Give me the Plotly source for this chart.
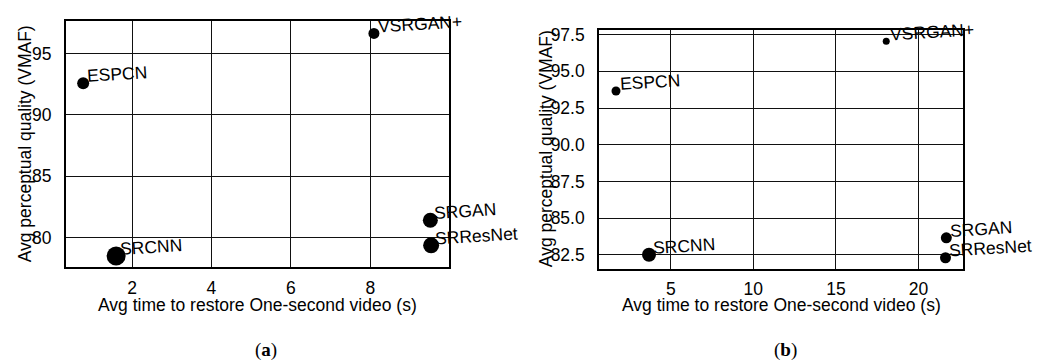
import plotly.graph_objects as go

models = ["ESPCN", "VSRGAN+", "SRCNN", "SRGAN", "SRResNet"]

# panel (a)
time_a = [0.77, 8.09, 1.60, 9.51, 9.53]
vmaf_a = [92.56, 96.63, 78.50, 81.40, 79.36]
size_a = [12, 11, 19, 15, 16]

# panel (b)
time_b = [1.68, 18.05, 3.68, 21.69, 21.64]
vmaf_b = [93.66, 97.05, 82.50, 83.66, 82.30]
size_b = [9, 7, 14, 11, 11]

xticks_a = [2, 4, 6, 8]
yticks_a = [80, 85, 90, 95]
xticks_b = [5, 10, 15, 20]
yticks_b = [82.5, 85.0, 87.5, 90.0, 92.5, 95.0, 97.5]

W, H = 1056, 362
FONT = "Liberation Sans, Arial, sans-serif"
FS = 17.5

def px(x):
    return x / W

def py(y):
    return 1 - y / H

fig = go.Figure()
fig.add_trace(go.Scatter(x=time_a, y=vmaf_a, mode="markers",
                         marker=dict(size=size_a, color="black", opacity=1, line=dict(width=0)),
                         xaxis="x", yaxis="y", showlegend=False, cliponaxis=False))
fig.add_trace(go.Scatter(x=time_b, y=vmaf_b, mode="markers",
                         marker=dict(size=size_b, color="black", opacity=1, line=dict(width=0)),
                         xaxis="x2", yaxis="y2", showlegend=False, cliponaxis=False))

common = dict(showgrid=True, gridcolor="#111111", gridwidth=1.3,
              showline=True, linecolor="black", linewidth=1.6, mirror=True,
              zeroline=False, ticks="outside", tickcolor="rgba(0,0,0,0)",
              tickfont=dict(family=FONT, size=FS, color="black"), layer="below traces")
xax = dict(common, ticklen=4)
yax = dict(common, ticklen=9)

fig.update_layout(
    width=W, height=H, margin=dict(l=0, r=0, t=0, b=0),
    paper_bgcolor="white", plot_bgcolor="white",
    xaxis=dict(domain=[px(65.7), px(449)], range=[0.33, 9.98],
               tickvals=xticks_a, ticktext=[str(v) for v in xticks_a], anchor="y", **xax),
    yaxis=dict(domain=[py(266), py(16.7)], range=[77.57, 97.6],
               tickvals=yticks_a, ticktext=[str(v) for v in yticks_a], anchor="x", **yax),
    xaxis2=dict(domain=[px(599), px(963)], range=[0.65, 22.7],
                tickvals=xticks_b, ticktext=[str(v) for v in xticks_b], anchor="y2", **xax),
    yaxis2=dict(domain=[py(267.3), py(25)], range=[81.56, 97.84],
                tickvals=yticks_b, ticktext=[f"{v:.1f}" for v in yticks_b], anchor="x2", **yax),
)

annotations = []
for xs, ys, xr, yr in [(time_a, vmaf_a, "x", "y"), (time_b, vmaf_b, "x2", "y2")]:
    for name, xv, yv in zip(models, xs, ys):
        annotations.append(dict(x=xv, y=yv, xref=xr, yref=yr, text=name, showarrow=False,
                                xanchor="left", yanchor="bottom", textangle=-3.5,
                                xshift=1, yshift=-5,
                                font=dict(family=FONT, size=FS, color="black")))

xtitle = "Avg time to restore One-second video (s)"
ytitle = "Avg perceptual quality (VMAF)"
for cx, cy_x, tx, cy_y in [(257.4, 304, 25, 141.3), (781, 304, 546, 146.2)]:
    annotations.append(dict(x=px(cx), y=py(cy_x), xref="paper", yref="paper", text=xtitle,
                            showarrow=False, xanchor="center", yanchor="middle",
                            font=dict(family=FONT, size=FS, color="black")))
    annotations.append(dict(x=px(tx), y=py(cy_y), xref="paper", yref="paper", text=ytitle,
                            showarrow=False, xanchor="center", yanchor="middle", textangle=-90,
                            font=dict(family=FONT, size=FS, color="black")))

for lab, cx in [("a", 266), ("b", 785)]:
    annotations.append(dict(x=px(cx), y=py(350), xref="paper", yref="paper",
                            text=f"(<b>{lab}</b>)", showarrow=False,
                            xanchor="center", yanchor="middle",
                            font=dict(family="Liberation Serif, serif", size=19, color="black")))

fig.update_layout(annotations=annotations)
fig.write_html("out.html")
